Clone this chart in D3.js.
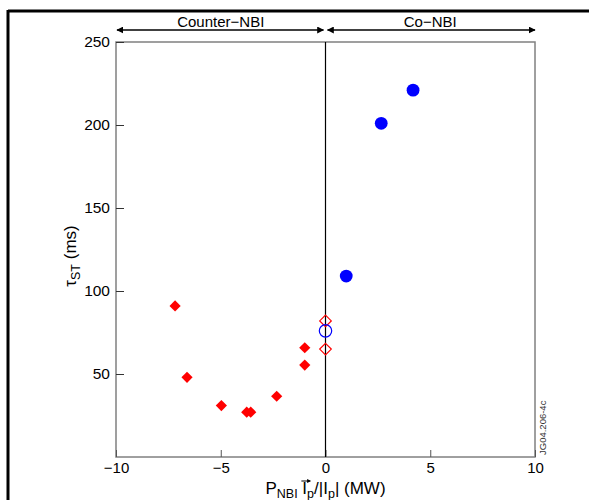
<!DOCTYPE html>
<html><head><meta charset="utf-8">
<script src="https://cdn.jsdelivr.net/npm/d3@7"></script>
<style>body{margin:0;background:#fff;} svg{display:block;} text{font-family:"Liberation Sans",Arial,sans-serif;}</style>
</head><body>
<script>
const xTicks = [-10, -5, 0, 5, 10];
const yTicks = [50, 100, 150, 200, 250];
const counterX = [-7.18, -6.61, -4.97, -3.76, -3.57, -2.33, -0.99, -0.99];
const counterY = [91, 48, 31, 27, 27, 36.6, 65.8, 55.4];
const openDiamondX = [0, 0];
const openDiamondY = [82, 65];
const openCircleX = [0];
const openCircleY = [76];
const coX = [0.99, 2.66, 4.18];
const coY = [109, 201, 221];
const regionLabels = ["Counter\u2212NBI", "Co\u2212NBI"];
const regionRanges = [[-10, 0], [0, 10]];

const W = 589, H = 500;
const svg = d3.select("body").append("svg").attr("width", W).attr("height", H);
const L = 116, R = 535, T = 42, B = 457;
const x = d3.scaleLinear().domain([-10, 10]).range([L, R]);
const y = d3.scaleLinear().domain([0, 250]).range([B, T]);

// outer border
svg.append("line").attr("x1", 8).attr("x2", 8).attr("y1", 10).attr("y2", H).attr("stroke", "#000").attr("stroke-width", 3);
svg.append("line").attr("x1", 8).attr("x2", W).attr("y1", 11).attr("y2", 11).attr("stroke", "#000").attr("stroke-width", 3);

// frame
svg.append("rect").attr("x", L).attr("y", T).attr("width", R - L).attr("height", B - T)
  .attr("fill", "none").attr("stroke", "#808080").attr("stroke-width", 1.5);

// y axis
const yAxis = d3.axisLeft(y).tickValues(yTicks).tickSize(-8).tickPadding(6).tickFormat(d3.format("d"));
const gy = svg.append("g").attr("transform", `translate(${L},0)`).call(yAxis);
gy.select(".domain").remove();
gy.selectAll(".tick line").attr("stroke", "#333").attr("stroke-width", 1);
gy.selectAll(".tick text").attr("font-size", 15.5).attr("fill", "#000")
  .attr("font-family", "'Liberation Sans',Arial,sans-serif");

// x axis
const xAxis = d3.axisBottom(x).tickValues(xTicks).tickSize(-7).tickPadding(5)
  .tickFormat(d => d < 0 ? "\u2212" + Math.abs(d) : d);
const gx = svg.append("g").attr("transform", `translate(0,${B})`).call(xAxis);
gx.select(".domain").remove();
gx.selectAll(".tick line").attr("stroke", "#555").attr("stroke-width", 1);
gx.selectAll(".tick text").attr("font-size", 15).attr("fill", "#000")
  .attr("font-family", "'Liberation Sans',Arial,sans-serif");

// zero line
svg.append("line").attr("x1", x(0)).attr("x2", x(0)).attr("y1", T).attr("y2", B).attr("stroke", "#000").attr("stroke-width", 1.2);

// arrows
const defs = svg.append("defs");
defs.append("marker").attr("id", "ah").attr("viewBox", "0 0 10 10").attr("refX", 9).attr("refY", 5)
  .attr("markerWidth", 7).attr("markerHeight", 7).attr("markerUnits", "userSpaceOnUse").attr("orient", "auto-start-reverse")
  .append("path").attr("d", "M0,0L10,5L0,10z").attr("fill", "#000");
const ay = 30;
regionRanges.forEach((r, i) => {
  const x1 = x(r[0]) + (i === 1 ? 2 : 1), x2 = x(r[1]) - (i === 0 ? 2 : 0);
  svg.append("line").attr("x1", x1).attr("x2", x2).attr("y1", ay).attr("y2", ay)
    .attr("stroke", "#000").attr("stroke-width", 1.5)
    .attr("marker-start", "url(#ah)").attr("marker-end", "url(#ah)");
  svg.append("text").attr("x", (x(r[0]) + x(r[1])) / 2).attr("y", 27).attr("text-anchor", "middle")
    .attr("font-size", 15).text(regionLabels[i]);
});

// markers
function diamond(h) { return `M0,${-h}L${h},0L0,${h}L${-h},0Z`; }
svg.append("g").selectAll("path").data(counterX).join("path")
  .attr("d", diamond(5.6)).attr("transform", (d, i) => `translate(${x(d)},${y(counterY[i])})`)
  .attr("fill", "#ff0000");
svg.append("g").selectAll("path").data(openDiamondX).join("path")
  .attr("d", diamond(5.8)).attr("transform", (d, i) => `translate(${x(d)},${y(openDiamondY[i])})`)
  .attr("fill", "none").attr("stroke", "#ff0000").attr("stroke-width", 1.2);
svg.append("g").selectAll("circle").data(openCircleX).join("circle")
  .attr("cx", d => x(d)).attr("cy", (d, i) => y(openCircleY[i])).attr("r", 6.2)
  .attr("fill", "none").attr("stroke", "#0000ff").attr("stroke-width", 1.2);
svg.append("g").selectAll("circle").data(coX).join("circle")
  .attr("cx", d => x(d)).attr("cy", (d, i) => y(coY[i])).attr("r", 6.4)
  .attr("fill", "#0000ff");

// y label
const yl = svg.append("text").attr("transform", "translate(76,256) rotate(-90)").attr("text-anchor", "middle").attr("font-size", 17);
yl.append("tspan").text("\u03C4");
yl.append("tspan").attr("font-size", 12.5).attr("dy", 4).text("ST");
yl.append("tspan").attr("dy", -4).text(" (ms)");

// x label
const xl = svg.append("text").attr("x", x(0)).attr("y", 494).attr("text-anchor", "middle").attr("font-size", 17);
xl.append("tspan").text("P");
xl.append("tspan").attr("font-size", 12.5).attr("dy", 4).text("NBI");
xl.append("tspan").attr("dy", -4).text(" I");
xl.append("tspan").attr("font-size", 12.5).attr("dy", 4).text("p");
xl.append("tspan").attr("dy", -4).text("/|I");
xl.append("tspan").attr("font-size", 12.5).attr("dy", 4).text("p");
xl.append("tspan").attr("dy", -4).text("| (MW)");
// vector arrow over the first I (char index 5)
try {
  const ext = xl.node().getExtentOfChar(5);
  const ax0 = ext.x - 1, ax1 = ext.x + ext.width + 3, ayy = ext.y + 2;
  svg.append("line").attr("x1", ax0).attr("x2", ax1).attr("y1", ayy).attr("y2", ayy)
    .attr("stroke", "#000").attr("stroke-width", 1);
  svg.append("path").attr("d", `M${ax1 + 1},${ayy}L${ax1 - 3},${ayy - 2}L${ax1 - 3},${ayy + 2}Z`).attr("fill", "#000");
} catch (e) {}

// code label
svg.append("text").attr("transform", "translate(546,455) rotate(-90)").attr("font-size", 9.5).attr("fill", "#333").text("JG04.206-4c");
</script>
</body></html>
